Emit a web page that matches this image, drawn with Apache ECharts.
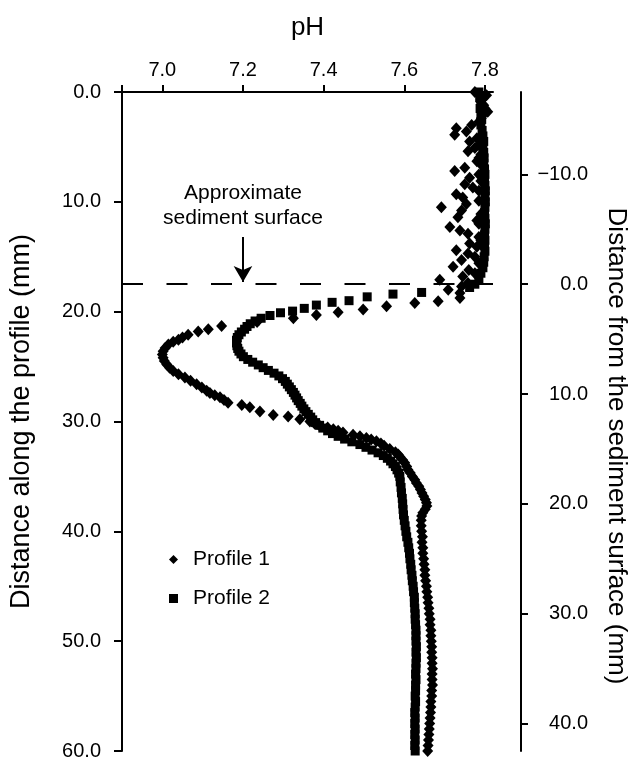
<!DOCTYPE html>
<html>
<head>
<meta charset="utf-8">
<script src="https://cdn.jsdelivr.net/npm/echarts@6/dist/echarts.min.js"></script>
<style>
  html, body { margin: 0; padding: 0; background: #fff; }
  #chart { width: 630px; height: 761px; }
</style>
</head>
<body>
<div id="chart"></div>
<script>
// pH readings, [distance along profile (mm), pH]
const profile1 = [
  [0.0,7.775],[0.3,7.804],[0.6,7.795],[0.9,7.790],[1.2,7.797],[1.5,7.800],[1.8,7.807],[2.1,7.795],
  [2.4,7.791],[2.7,7.785],[3.0,7.767],[3.3,7.729],[3.6,7.754],[3.9,7.725],[4.2,7.780],[4.5,7.762],
  [4.8,7.785],[5.1,7.775],[5.4,7.758],[5.7,7.790],[6.0,7.785],[6.3,7.780],[6.6,7.790],[6.9,7.750],
  [7.2,7.725],[7.5,7.785],[7.8,7.762],[8.1,7.790],[8.4,7.750],[8.7,7.770],[9.0,7.785],[9.3,7.729],
  [9.6,7.745],[9.9,7.785],[10.2,7.754],[10.5,7.692],[10.8,7.742],[11.1,7.790],[11.4,7.733],[11.7,7.780],
  [12.0,7.785],[12.3,7.713],[12.6,7.738],[12.9,7.758],[13.2,7.785],[13.5,7.790],[13.8,7.762],[14.1,7.780],
  [14.4,7.729],[14.7,7.758],[15.0,7.775],[15.3,7.742],[15.6,7.785],[15.9,7.721],[16.2,7.760],[16.5,7.775],
  [16.8,7.745],[17.1,7.688],[17.4,7.758],[17.7,7.742],[18.0,7.709],[18.3,7.738],[18.75,7.738],[19.05,7.684],
  [19.2,7.626],[19.5,7.556],[19.8,7.498],[20.05,7.436],[20.3,7.382],[20.6,7.325],[20.95,7.235],[21.3,7.147],
  [21.6,7.114],[21.8,7.089],[22.1,7.064],[22.35,7.050],[22.55,7.040],[22.75,7.027],[23.0,7.015],[23.3,7.007],
  [23.6,7.002],[23.9,7.000],[24.2,7.002],[24.5,7.005],[24.8,7.011],[25.1,7.018],[25.4,7.027],[25.7,7.040],
  [26.0,7.056],[26.3,7.070],[26.6,7.085],[26.9,7.098],[27.2,7.110],[27.4,7.118],[27.6,7.130],[27.8,7.143],
  [28.05,7.153],[28.3,7.163],[28.5,7.197],[28.7,7.217],[29.1,7.242],[29.4,7.275],[29.55,7.312],[29.8,7.341],
  [30.0,7.366],[30.2,7.378],[30.4,7.391],[30.55,7.410],[30.7,7.424],[30.85,7.436],[31.0,7.448],[31.2,7.473],
  [31.35,7.490],[31.5,7.506],[31.65,7.518],[31.8,7.531],[32.0,7.542],[32.2,7.550],[32.5,7.564],[32.8,7.578],
  [33.0,7.585],[33.2,7.589],[33.5,7.596],[33.75,7.601],[34.1,7.606],[34.4,7.609],[34.7,7.615],[35.0,7.620],
  [35.3,7.626],[35.6,7.630],[35.9,7.636],[36.2,7.640],[36.5,7.644],[36.8,7.648],[37.1,7.652],[37.4,7.655],
  [37.7,7.656],[38.0,7.652],[38.3,7.646],[38.6,7.643],[39.0,7.642],[39.5,7.642],[40.0,7.643],[40.5,7.645],
  [41.0,7.644],[41.5,7.646],[42.0,7.646],[42.5,7.648],[43.0,7.649],[43.5,7.651],[44.0,7.651],[44.5,7.653],
  [45.0,7.655],[45.5,7.656],[46.0,7.658],[46.5,7.659],[47.0,7.661],[47.5,7.662],[48.0,7.664],[48.5,7.664],
  [49.0,7.666],[49.5,7.666],[50.0,7.667],[50.5,7.668],[51.0,7.668],[51.5,7.669],[52.0,7.669],[52.5,7.670],
  [53.0,7.669],[53.5,7.669],[54.0,7.670],[54.5,7.668],[55.0,7.668],[55.5,7.666],[56.0,7.666],[56.5,7.665],
  [57.0,7.664],[57.5,7.663],[58.0,7.662],[58.5,7.661],[59.0,7.660],[59.5,7.659],[60.0,7.658]
];

const profile2 = [
  [0.0,7.785],[0.5,7.787],[1.0,7.790],[1.5,7.788],[2.0,7.790],[2.5,7.792],[3.0,7.790],[3.5,7.793],
  [4.0,7.795],[4.5,7.797],[5.0,7.795],[5.5,7.797],[6.0,7.798],[6.5,7.797],[7.0,7.799],[7.5,7.800],
  [8.0,7.799],[8.5,7.800],[9.0,7.801],[9.5,7.800],[10.0,7.801],[10.5,7.800],[11.0,7.799],[11.5,7.800],
  [12.0,7.801],[12.5,7.800],[13.0,7.799],[13.5,7.800],[14.0,7.799],[14.5,7.800],[15.0,7.798],[15.5,7.797],
  [16.0,7.795],[16.5,7.790],[17.0,7.785],[17.5,7.775],[17.8,7.762],[18.25,7.643],[18.4,7.572],[18.65,7.508],
  [19.0,7.463],[19.15,7.421],[19.4,7.382],[19.7,7.352],[19.95,7.323],[20.1,7.293],[20.35,7.267],[20.6,7.245],
  [20.85,7.230],[21.1,7.218],[21.35,7.210],[21.6,7.204],[21.85,7.196],[22.1,7.190],[22.35,7.186],[22.6,7.184],
  [22.85,7.184],[23.1,7.185],[23.35,7.187],[23.6,7.190],[23.85,7.195],[24.1,7.201],[24.35,7.212],[24.6,7.224],
  [24.85,7.238],[25.1,7.250],[25.35,7.263],[25.6,7.277],[25.85,7.289],[26.1,7.298],[26.35,7.305],[26.6,7.310],
  [26.85,7.315],[27.1,7.320],[27.35,7.325],[27.6,7.329],[27.85,7.333],[28.1,7.337],[28.35,7.342],[28.6,7.346],
  [28.85,7.351],[29.1,7.356],[29.35,7.362],[29.6,7.368],[29.85,7.373],[30.1,7.380],[30.35,7.390],[30.6,7.398],
  [30.85,7.410],[31.1,7.422],[31.35,7.436],[31.6,7.452],[31.85,7.470],[32.1,7.490],[32.35,7.505],[32.6,7.520],
  [32.85,7.535],[33.1,7.548],[33.35,7.558],[33.6,7.566],[33.85,7.572],[34.1,7.578],[34.4,7.582],[34.7,7.586],
  [35.0,7.589],[35.5,7.590],[36.0,7.592],[36.5,7.593],[37.0,7.595],[37.5,7.596],[38.0,7.597],[38.5,7.598],
  [39.0,7.600],[39.5,7.602],[40.0,7.604],[40.5,7.606],[41.0,7.609],[41.5,7.611],[42.0,7.613],[42.5,7.614],
  [43.0,7.616],[43.5,7.617],[44.0,7.619],[44.5,7.620],[45.0,7.622],[45.5,7.623],[46.0,7.625],[46.5,7.625],
  [47.0,7.626],[47.5,7.627],[48.0,7.627],[48.5,7.628],[49.0,7.629],[49.5,7.629],[50.0,7.629],[50.5,7.630],
  [51.0,7.629],[51.5,7.630],[52.0,7.629],[52.5,7.629],[53.0,7.628],[53.5,7.629],[54.0,7.628],[54.5,7.628],
  [55.0,7.627],[55.5,7.628],[56.0,7.627],[56.5,7.626],[57.0,7.627],[57.5,7.626],[58.0,7.627],[58.5,7.626],
  [59.0,7.627],[59.5,7.626],[60.0,7.627]
];

const phLabels = [7.0, 7.2, 7.4, 7.6, 7.8];
const phTickMarks = [6.9, 7.0, 7.2, 7.4, 7.6, 7.8];
const surfaceLabels = [-10, 0, 10, 20, 30, 40];
const surfaceDepth = 17.5;   // approximate sediment surface, mm along profile
const arrowFrom = 13.2;
const arrowTo = 17.3;
const arrowPH = 7.2;

const font = "'Liberation Sans', Arial, sans-serif";
const black = '#000';

const chart = echarts.init(document.getElementById('chart'));

const option = {
  animation: false,
  backgroundColor: '#fff',
  grid: { left: 122, top: 92, width: 371, height: 660 },
  legend: {
    orient: 'vertical',
    left: 164,
    top: 544,
    itemWidth: 9,
    itemHeight: 9,
    itemGap: 18,
    data: [
      { name: 'Profile 1', icon: 'diamond' },
      { name: 'Profile 2', icon: 'rect' }
    ],
    itemStyle: { opacity: 1 },
    textStyle: { fontSize: 21, color: black, fontFamily: font, padding: [0, 0, 0, 10] }
  },
  xAxis: {
    type: 'value',
    position: 'top',
    min: 6.9,
    max: 7.82,
    name: 'pH',
    nameLocation: 'middle',
    nameGap: 51,
    nameTextStyle: { fontSize: 26, color: black, fontFamily: font },
    axisLine: { show: true, onZero: false, lineStyle: { color: black, width: 2 } },
    axisTick: { show: true, length: 7, customValues: phTickMarks, lineStyle: { color: black, width: 2 } },
    axisLabel: {
      customValues: phLabels,
      formatter: v => v.toFixed(1),
      fontSize: 20, color: black, fontFamily: font, margin: 12
    },
    splitLine: { show: false }
  },
  yAxis: [
    {
      type: 'value',
      position: 'left',
      inverse: true,
      min: 0,
      max: 60,
      interval: 10,
      name: 'Distance along the profile (mm)',
      nameLocation: 'middle',
      nameRotate: 90,
      nameGap: 87,
      nameTextStyle: { fontSize: 27, color: black, fontFamily: font },
      axisLine: { show: true, onZero: false, lineStyle: { color: black, width: 2 } },
      axisTick: { show: true, length: 8, lineStyle: { color: black, width: 2 } },
      axisLabel: { formatter: v => v.toFixed(1), fontSize: 20, color: black, fontFamily: font, margin: 21 },
      splitLine: { show: false }
    },
    {
      type: 'value',
      position: 'right',
      offset: 28,
      inverse: true,
      min: -surfaceDepth,
      max: 60 - surfaceDepth,
      axisLine: { show: true, onZero: false, lineStyle: { color: black, width: 2 } },
      axisTick: { show: true, length: 7, customValues: surfaceLabels, lineStyle: { color: black, width: 2 } },
      axisLabel: {
        customValues: surfaceLabels,
        formatter: v => (v < 0 ? '\u2212' : '') + Math.abs(v).toFixed(1),
        align: 'right',
        fontSize: 20, color: black, fontFamily: font, margin: 67
      },
      splitLine: { show: false }
    }
  ],
  graphic: [
    {
      type: 'text',
      x: 616,
      y: 446,
      rotation: -Math.PI / 2,
      style: {
        text: 'Distance from the sediment surface (mm)',
        font: '26px ' + font,
        fill: black,
        textAlign: 'center',
        textVerticalAlign: 'middle'
      }
    },
    {
      type: 'text',
      x: 243,
      y: 206,
      style: {
        text: 'Approximate\nsediment surface',
        font: '21px ' + font,
        lineHeight: 25,
        fill: black,
        textAlign: 'center',
        textVerticalAlign: 'middle'
      }
    }
  ],
  series: [
    {
      name: 'Profile 1',
      type: 'scatter',
      symbol: 'diamond',
      symbolSize: [11, 12],
      itemStyle: { color: black, opacity: 1 },
      data: profile1.map(p => [p[1], p[0]]),
      markLine: {
        silent: true,
        symbol: ['none', 'none'],
        label: { show: false },
        lineStyle: { color: black, width: 2, type: 'solid' },
        data: [
          { yAxis: surfaceDepth, lineStyle: { type: [21, 23.5], width: 2, color: black } },
          [
            { coord: [arrowPH, arrowFrom], symbol: 'none' },
            { coord: [arrowPH, arrowTo], symbol: 'arrow', symbolSize: [14, 16] }
          ]
        ]
      }
    },
    {
      name: 'Profile 2',
      type: 'scatter',
      symbol: 'rect',
      symbolSize: 9,
      itemStyle: { color: black, opacity: 1 },
      data: profile2.map(p => [p[1], p[0]])
    }
  ]
};

chart.setOption(option);
</script>
</body>
</html>
